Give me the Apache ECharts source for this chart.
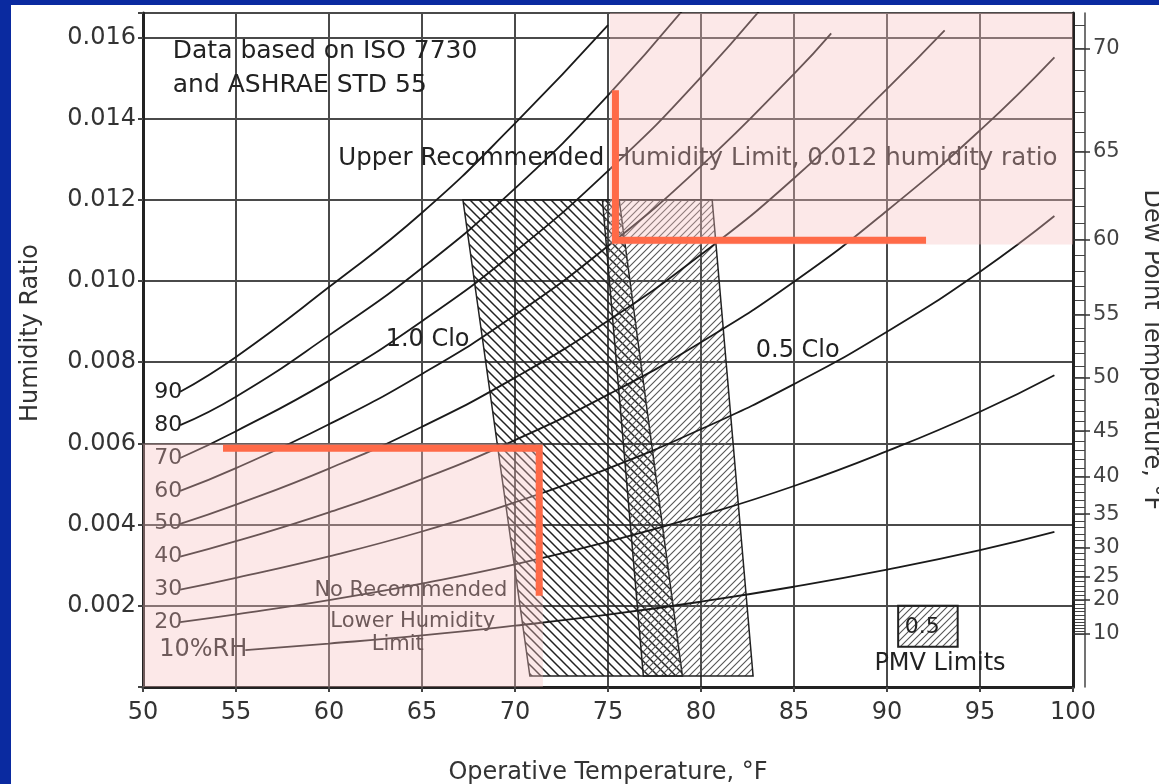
<!DOCTYPE html>
<html>
<head>
<meta charset="utf-8">
<script src="https://cdn.jsdelivr.net/npm/echarts@6/dist/echarts.min.js"></script>
<style>
  html, body { margin: 0; padding: 0; background: #0a2aa0; }
  #frame { position: absolute; left: 11px; top: 5px; width: 1148px; height: 779px; background: #fff; }
  #chart { position: absolute; left: 0; top: 0; width: 1159px; height: 784px; }
</style>
</head>
<body>
<div id="frame"></div>
<div id="chart"></div>
<script>
// relative humidity curves: [operative temp F, humidity ratio]
var rh90 = [[52, 0.00727], [55, 0.00813], [60, 0.00985], [65, 0.01168], [70, 0.01388], [75, 0.0163]];
var rh80 = [[52, 0.00645], [55, 0.00715], [60, 0.00866], [65, 0.01032], [70, 0.01228], [75, 0.01457], [80, 0.01722]];
var rh70 = [[52, 0.00564], [55, 0.0063], [60, 0.00754], [65, 0.00901], [70, 0.01072], [75, 0.01271], [80, 0.01502], [85, 0.01769]];
var rh60 = [[52, 0.00483], [55, 0.00539], [60, 0.00647], [65, 0.00771], [70, 0.00916], [75, 0.01086], [80, 0.01283], [85, 0.0151], [87, 0.0161]];
var rh50 = [[52, 0.00402], [55, 0.00449], [60, 0.00538], [65, 0.00641], [70, 0.00762], [75, 0.00902], [80, 0.01065], [85, 0.01253], [90, 0.01473], [93.1, 0.01617]];
var rh40 = [[52, 0.00321], [55, 0.00359], [60, 0.0043], [65, 0.00512], [70, 0.00608], [75, 0.0072], [80, 0.00849], [85, 0.00998], [90, 0.01173], [95, 0.01371], [99, 0.01551]];
var rh30 = [[52, 0.0024], [55, 0.00269], [60, 0.00322], [65, 0.00383], [70, 0.00455], [75, 0.00538], [80, 0.00635], [85, 0.00746], [90, 0.00875], [95, 0.01023], [99, 0.0116]];
var rh20 = [[52, 0.0016], [55, 0.00179], [60, 0.00214], [65, 0.00255], [70, 0.00302], [75, 0.00358], [80, 0.00422], [85, 0.00495], [90, 0.00581], [95, 0.00678], [99, 0.00768]];
var rh10 = [[55.5, 0.00091], [60, 0.00107], [65, 0.00127], [70, 0.00151], [75, 0.00178], [80, 0.0021], [85, 0.00247], [90, 0.00289], [95, 0.00337], [99, 0.00382]];
var rhCurves = [rh90, rh80, rh70, rh60, rh50, rh40, rh30, rh20, rh10];
var rhLabels = ['90', '80', '70', '60', '50', '40', '30', '20', '10%RH'];

// comfort zones (corners)
var clo10Zone = [[67.2, 0.012], [75.6, 0.012], [79.0, 0.00027], [70.8, 0.00027]];
var clo05Zone = [[74.7, 0.012], [80.6, 0.012], [82.8, 0.00027], [76.9, 0.00027]];
var pmvBox = [[90.6, 0.00099], [93.8, 0.002]];

// shaded limits and the orange markers
var upperShade = [[75.1, 0.0109], [100, 0.0166]];
var lowerShade = [[50, 0], [71.5, 0.006]];
var upperMarker = [[75.4, 0.0147], [75.4, 0.0110], [92.1, 0.0110]];
var lowerMarker = [[54.3, 0.00588], [71.3, 0.00588], [71.3, 0.00225]];

// dew point scale on the right
var dewLabels = [10, 20, 25, 30, 35, 40, 45, 50, 55, 60, 65, 70];

// notes on the chart
var noteText = ['Data based on ISO 7730', 'and ASHRAE STD 55', 'Upper Recommended Humidity Limit, 0.012 humidity ratio',
  '1.0 Clo', '0.5 Clo', 'No Recommended', 'Lower Humidity', 'Limit', '0.5', 'PMV Limits'];
var noteTemp = [51.6, 51.6, 60.5, 65.3, 85.2, 64.4, 64.5, 63.7, 91.9, 92.85];
var noteRatio = [0.01565, 0.01481, 0.01301, 0.00854, 0.00827, 0.00237, 0.0016, 0.00104, 0.00146, 0.00057];

function dewPointToW(tf) {
  var tc = (tf - 32) / 1.8;
  var p = tc >= 0 ? 0.61094 * Math.exp(17.625 * tc / (tc + 243.04)) : 0.61115 * Math.exp(22.452 * tc / (272.55 + tc));
  return 0.622 * p / (101.325 - p);
}
var dewMajorW = dewLabels.map(dewPointToW);
var dewMinorW = [];
for (var d = 10; d <= 71; d++) dewMinorW.push(dewPointToW(d));

function hatch(size, back, color, width) {
  var c = document.createElement('canvas');
  c.width = size; c.height = size;
  var g = c.getContext('2d');
  g.strokeStyle = color; g.lineWidth = width;
  g.beginPath();
  if (back) {
    g.moveTo(-1, -1); g.lineTo(size + 1, size + 1);
    g.moveTo(size - 1, -1); g.lineTo(size + 1, 1);
    g.moveTo(-1, size - 1); g.lineTo(1, size + 1);
  } else {
    g.moveTo(-1, size + 1); g.lineTo(size + 1, -1);
    g.moveTo(-1, 1); g.lineTo(1, -1);
    g.moveTo(size - 1, size + 1); g.lineTo(size + 1, size - 1);
  }
  g.stroke();
  return { image: c, repeat: 'repeat' };
}
var backHatch = hatch(9, true, '#222', 1.5);
var fwdHatch = hatch(7, false, '#555', 1.1);

var zones = [clo10Zone, clo05Zone];
var zoneFill = [backHatch, fwdHatch];
var shades = [upperShade, lowerShade];
var noteSize = [25, 25, 24.5, 24, 24, 21, 21, 21, 22, 24];
var noteAlign = ['left', 'left', 'left', 'center', 'center', 'center', 'center', 'center', 'center', 'center'];
var rhLabelSize = [22, 22, 22, 22, 22, 22, 22, 22, 24];

var chart = echarts.init(document.getElementById('chart'));

var series = [];
series.push({
  type: 'custom',
  z: 2,
  data: zones.map(function (z) { return z[0]; }),
  renderItem: function (params, api) {
    var pts = zones[params.dataIndex].map(function (p) { return api.coord(p); });
    return {
      type: 'polygon',
      shape: { points: pts },
      style: { fill: zoneFill[params.dataIndex], stroke: '#222', lineWidth: 1.5 }
    };
  }
});
series.push({
  type: 'custom',
  z: 2,
  data: [pmvBox[0]],
  renderItem: function (params, api) {
    var a = api.coord(pmvBox[0]), b = api.coord(pmvBox[1]);
    return {
      type: 'rect',
      shape: { x: a[0], y: b[1], width: b[0] - a[0], height: a[1] - b[1] },
      style: { fill: fwdHatch, stroke: '#222', lineWidth: 2 }
    };
  }
});
rhCurves.forEach(function (c) {
  series.push({
    type: 'line',
    z: 3,
    data: c,
    smooth: true,
    showSymbol: false,
    lineStyle: { color: '#1a1a1a', width: 1.8 }
  });
});
// RH labels at the start of each curve
series.push({
  type: 'custom',
  z: 4,
  data: rhCurves.map(function (c) { return c[0]; }),
  renderItem: function (params, api) {
    var p = api.coord(rhCurves[params.dataIndex][0]);
    return {
      type: 'text',
      x: p[0] + 2, y: p[1],
      style: { text: rhLabels[params.dataIndex], fontSize: rhLabelSize[params.dataIndex], fontFamily: 'DejaVu Sans', fill: '#222', align: 'right', verticalAlign: 'middle' }
    };
  }
});
series.push({
  type: 'custom',
  z: 4,
  data: noteTemp.map(function (t, i) { return [t, noteRatio[i]]; }),
  renderItem: function (params, api) {
    var i = params.dataIndex;
    var p = api.coord([noteTemp[i], noteRatio[i]]);
    return {
      type: 'text',
      x: p[0], y: p[1],
      style: { text: noteText[i], fontSize: noteSize[i], fontFamily: 'DejaVu Sans', fill: '#222', align: noteAlign[i], verticalAlign: 'middle' }
    };
  }
});
series.push({
  type: 'custom',
  z: 5,
  data: shades.map(function (s) { return s[0]; }),
  renderItem: function (params, api) {
    var s = shades[params.dataIndex];
    var a = api.coord(s[0]), b = api.coord(s[1]);
    return {
      type: 'rect',
      shape: { x: a[0], y: b[1], width: b[0] - a[0], height: a[1] - b[1] },
      style: { fill: 'rgba(248,190,190,0.36)' }
    };
  }
});
[upperMarker, lowerMarker].forEach(function (m) {
  series.push({
    type: 'line',
    z: 6,
    data: m,
    showSymbol: false,
    lineStyle: { color: '#ff6a48', width: 7, cap: 'butt', join: 'miter' }
  });
});

var option = {
  animation: false,
  textStyle: { fontFamily: 'DejaVu Sans' },
  grid: {
    left: 143, right: 86, top: 13, bottom: 97, outerBoundsMode: 'none', containLabel: false,
    show: true, borderColor: '#4a4a4a', borderWidth: 2
  },
  xAxis: {
    type: 'value', min: 50, max: 100, interval: 5,
    axisLine: { lineStyle: { color: '#222', width: 3 } },
    axisTick: { length: 5, lineStyle: { color: '#444', width: 2 } },
    axisLabel: { fontSize: 24, color: '#333', margin: 14 },
    splitLine: { lineStyle: { color: '#4a4a4a', width: 2 } },
    name: 'Operative Temperature, °F', nameLocation: 'middle', nameGap: 74,
    nameTextStyle: { fontSize: 24, color: '#333' }
  },
  yAxis: [{
    type: 'value', min: 0, max: 0.0166, interval: 0.002,
    axisLine: { show: true, lineStyle: { color: '#222', width: 3 } },
    axisTick: { show: true, length: 5, lineStyle: { color: '#444', width: 2 } },
    axisLabel: {
      fontSize: 24, color: '#333', margin: 7,
      formatter: function (v) {
        var k = v / 0.002;
        return (v > 0 && Math.abs(k - Math.round(k)) < 1e-6) ? v.toFixed(3) : '';
      }
    },
    splitLine: { lineStyle: { color: '#4a4a4a', width: 2 } },
    name: 'Humidity Ratio', nameLocation: 'middle', nameGap: 100,
    nameTextStyle: { fontSize: 24, color: '#333', padding: [0, 0, 0, 34] }
  }, {
    type: 'value', position: 'right', min: 0, max: 0.0166,
    axisLine: { show: true, lineStyle: { color: '#222', width: 3 } },
    axisTick: { show: true, length: 17, customValues: dewMajorW, lineStyle: { color: '#333', width: 1.5 } },
    axisLabel: {
      customValues: dewMajorW, fontSize: 21, color: '#444', margin: 20,
      formatter: function (v) {
        for (var i = 0; i < dewMajorW.length; i++) {
          if (Math.abs(dewMajorW[i] - v) < 1e-9) return String(dewLabels[i]);
        }
        return '';
      }
    },
    splitLine: { show: false },
    name: 'Dew Point Temperature, °F', nameLocation: 'middle', nameRotate: -90, nameGap: 66,
    nameTextStyle: { fontSize: 24, color: '#333' }
  }, {
    type: 'value', position: 'right', offset: 12, min: 0, max: 0.0166,
    axisLine: { show: true, lineStyle: { color: '#444', width: 1.5 } },
    axisTick: { show: true, inside: true, length: 10, customValues: dewMinorW, lineStyle: { color: '#444', width: 1 } },
    axisLabel: { show: false },
    splitLine: { show: false }
  }],
  series: series
};
chart.setOption(option);
</script>
</body>
</html>
